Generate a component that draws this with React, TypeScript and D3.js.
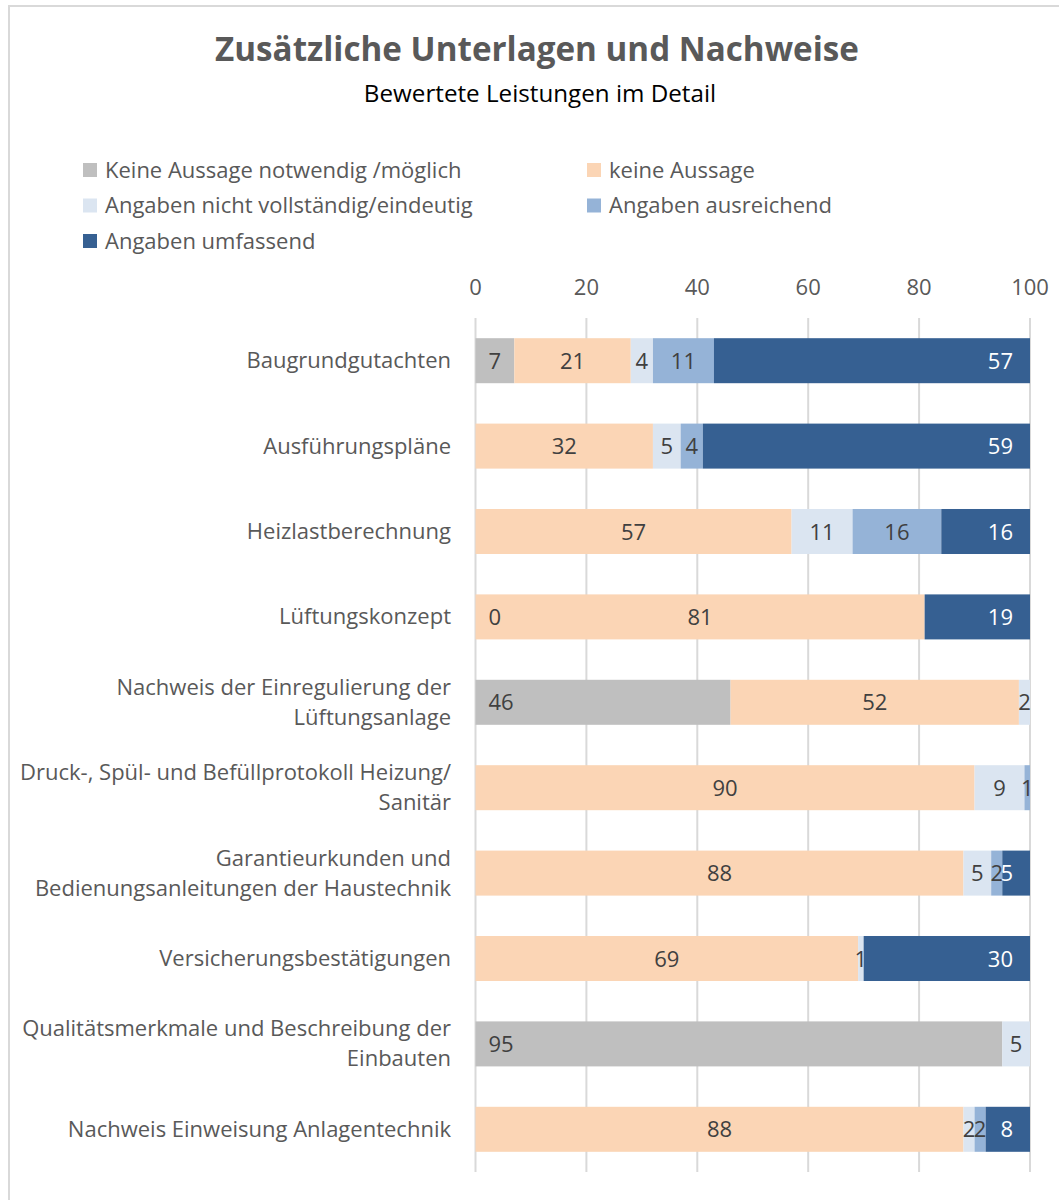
import React from "react";
import * as d3 from "d3";

const title = "Zusätzliche Unterlagen und Nachweise";
const subtitle = "Bewertete Leistungen im Detail";

const categories = [
  "Baugrundgutachten",
  "Ausführungspläne",
  "Heizlastberechnung",
  "Lüftungskonzept",
  "Nachweis der Einregulierung der\nLüftungsanlage",
  "Druck-, Spül- und Befüllprotokoll Heizung/\nSanitär",
  "Garantieurkunden und\nBedienungsanleitungen der Haustechnik",
  "Versicherungsbestätigungen",
  "Qualitätsmerkmale und Beschreibung der\nEinbauten",
  "Nachweis Einweisung Anlagentechnik",
];

const seriesNames = [
  "Keine Aussage notwendig /möglich",
  "keine Aussage",
  "Angaben nicht vollständig/eindeutig",
  "Angaben ausreichend",
  "Angaben umfassend",
];

const seriesColors = ["#BFBFBF", "#FBD5B5", "#DBE5F1", "#95B3D7", "#366092"];

// values per series (null = not present)
const keineNotwendig = [7, null, null, 0, 46, null, null, null, 95, null];
const keineAussage = [21, 32, 57, 81, 52, 90, 88, 69, null, 88];
const nichtVollstaendig = [4, 5, 11, null, 2, 9, 5, 1, 5, 2];
const ausreichend = [11, 4, 16, null, null, 1, 2, null, null, 2];
const umfassend = [57, 59, 16, 19, null, null, 5, 30, null, 8];

const seriesValues = [keineNotwendig, keineAussage, nichtVollstaendig, ausreichend, umfassend];

const xTicks = [0, 20, 40, 60, 80, 100];

const FONT = "'Open Sans', sans-serif";

export default function App() {
  const W = 1059;
  const H = 1200;
  const x = d3.scaleLinear().domain([0, 100]).range([475.5, 1030]);
  const y = d3
    .scaleBand<string>()
    .domain(categories)
    .range([318, 1172])
    .paddingInner(0.473)
    .paddingOuter(0.2365);

  const rows = categories.map((c, i) => {
    const r: any = { cat: c };
    seriesNames.forEach((s, j) => {
      r[s] = seriesValues[j][i] ?? 0;
    });
    return r;
  });
  const stacked = d3.stack<any>().keys(seriesNames)(rows);

  const legendItems = seriesNames.map((s, i) => ({
    name: s,
    color: seriesColors[i],
    x: i % 2 === 0 ? 83 : 587,
    y: 170 + Math.floor(i / 2) * 35.5,
  }));

  const FS = 22;

  return (
    <svg
      width={W}
      height={H}
      style={{ position: "absolute", left: 0, top: 0, background: "#fff" }}
      fontFamily={FONT}
    >
      <rect x={0} y={0} width={W} height={H} fill="#fff" />
      <rect x={9} y={6} width={1200} height={1400} fill="none" stroke="#D9D9D9" strokeWidth={2} />

      <text x={537} y={61} textAnchor="middle" fontSize={33.2} fontWeight="bold" fill="#595959">
        {title}
      </text>
      <text x={540} y={102} textAnchor="middle" fontSize={24.2} fill="#000">
        {subtitle}
      </text>

      {legendItems.map((l) => (
        <g key={l.name}>
          <rect x={l.x} y={l.y - 7} width={14} height={14} fill={l.color} />
          <text x={l.x + 22} y={l.y + 7.5} fontSize={FS} fill="#595959">
            {l.name}
          </text>
        </g>
      ))}

      {xTicks.map((t) => (
        <g key={t}>
          <line x1={x(t)} x2={x(t)} y1={318} y2={1172} stroke="#D9D9D9" strokeWidth={2} />
          <text x={x(t)} y={295} textAnchor="middle" fontSize={FS} fill="#595959">
            {t}
          </text>
        </g>
      ))}

      {categories.map((c) => {
        const lines = c.split("\n");
        const cy = (y(c) ?? 0) + y.bandwidth() / 2;
        return (
          <text key={c} x={451} textAnchor="end" fontSize={FS} fill="#595959">
            {lines.map((ln, k) => (
              <tspan key={k} x={451} y={cy + 7.5 + (k - (lines.length - 1) / 2) * 30}>
                {ln}
              </tspan>
            ))}
          </text>
        );
      })}

      {stacked.map((layer, si) => (
        <g key={layer.key}>
          {layer.map((d, i) => {
            const v = seriesValues[si][i];
            if (v === null) return null;
            const cat = categories[i];
            const y0 = y(cat) ?? 0;
            const x0 = x(d[0]);
            const x1 = x(d[1]);
            return (
              <rect key={cat} x={x0} y={y0} width={Math.max(0, x1 - x0)} height={y.bandwidth()} fill={seriesColors[si]} />
            );
          })}
        </g>
      ))}

      {stacked.map((layer, si) => (
        <g key={"lbl" + layer.key}>
          {layer.map((d, i) => {
            const v = seriesValues[si][i];
            if (v === null) return null;
            const cat = categories[i];
            const cy = (y(cat) ?? 0) + y.bandwidth() / 2;
            let tx: number;
            let anchor: "start" | "middle" | "end" = "middle";
            if (si === 0) {
              tx = x(d[0]) + 13;
              anchor = "start";
            } else if (si === 4) {
              tx = x(d[1]) - 17;
              anchor = "end";
            } else {
              tx = (x(d[0]) + x(d[1])) / 2;
            }
            return (
              <text
                key={cat}
                x={tx}
                y={cy + 8}
                textAnchor={anchor}
                fontSize={FS}
                fill={si === 4 ? "#FFFFFF" : "#404040"}
              >
                {v}
              </text>
            );
          })}
        </g>
      ))}
    </svg>
  );
}
